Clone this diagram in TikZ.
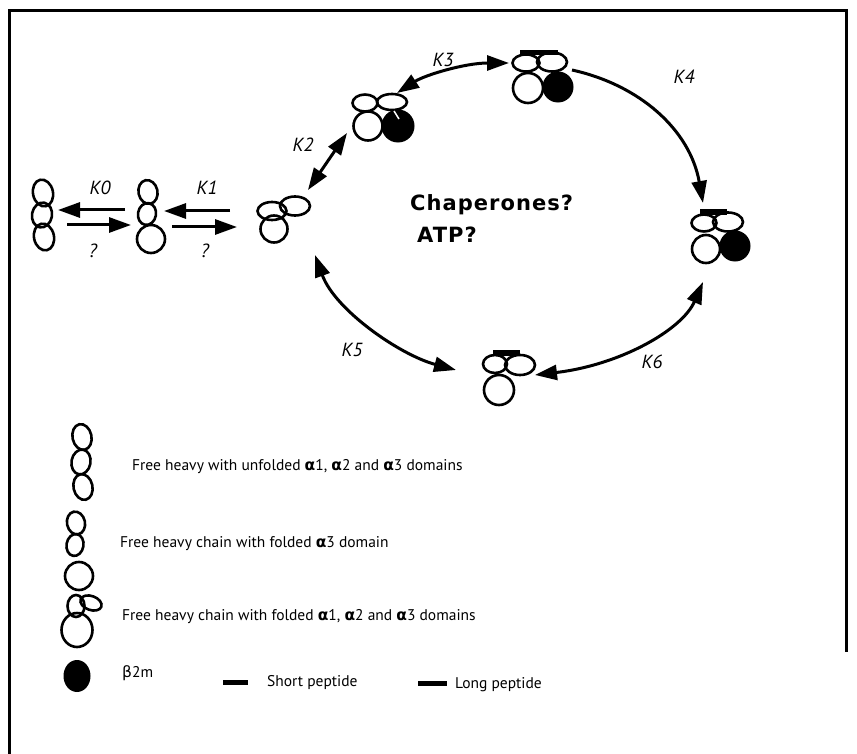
\documentclass[tikz,border=0pt]{standalone}
\usepackage{fontspec}
\setmainfont{PT Sans}
\newfontfamily\grk{DejaVu Sans}
\newfontfamily\chapfont[LetterSpace=5]{DejaVu Sans}
\usetikzlibrary{arrows.meta}
\newcommand{\al}{{\grk\bfseries α}}
\newcommand{\bt}{{\grk β}}
\begin{document}
\begin{tikzpicture}[x=1pt,y=-1pt,
  mol/.style={line width=2.6pt},
  b2m/.style={line width=1pt, fill=black},
  pep/.style={fill=black},
  frame/.style={line width=3pt},
  rxn/.style={line width=3pt, -{Triangle[length=22pt,width=15pt]}},
  rxnb/.style={line width=3pt, {Triangle[length=22pt,width=15pt]}-{Triangle[length=22pt,width=15pt]}},
  klab/.style={font=\fontsize{19}{22}\selectfont\itshape, inner sep=0},
  legtxt/.style={font=\fontsize{15.5}{18}\selectfont, anchor=base west, inner sep=0},
  bigtxt/.style={font=\chapfont\bfseries\fontsize{21}{24}\selectfont, anchor=base west, inner sep=0}
]
\useasboundingbox (0,0) rectangle (857,754);
% frame
\draw[frame] (9,754) -- (9,11) -- (846,11) -- (846,652);

% ---- molecule 1: unfolded chain
\draw[mol] (43,193) ellipse [x radius=10pt, y radius=13.5pt, rotate=12];
\draw[mol] (42,215) ellipse [x radius=10pt, y radius=12.5pt, rotate=-10];
\draw[mol] (44,237) ellipse [x radius=10pt, y radius=13.5pt, rotate=12];

% ---- molecule 2: folded a3
\draw[mol] (148,192) ellipse [x radius=9.5pt, y radius=12pt, rotate=12];
\draw[mol] (147,214) ellipse [x radius=9pt, y radius=11pt, rotate=-10];
\draw[mol] (151,239) circle [radius=14pt];

% ---- molecule 3: folded free heavy chain
\draw[mol] (272,211) ellipse [x radius=14.5pt, y radius=9pt];
\draw[mol] (295,206) ellipse [x radius=15pt, y radius=9.5pt];
\draw[mol] (274,229) circle [radius=13.5pt];

% ---- molecule 4: with b2m, no peptide
\draw[mol] (365,103) ellipse [x radius=12.5pt, y radius=8.5pt];
\draw[mol] (392,102) ellipse [x radius=15pt, y radius=8pt];
\draw[mol] (368,126) circle [radius=14.5pt];
\draw[b2m] (398,126) circle [radius=16pt];
\draw[white, line width=1.5pt] (394,111) -- (399,119);

% ---- molecule 5: long peptide + b2m
\fill[pep] (520,50) rectangle (558,55.5);
\draw[mol] (526,63) ellipse [x radius=13.5pt, y radius=8.5pt];
\draw[mol] (552,62) ellipse [x radius=15pt, y radius=9.5pt];
\draw[mol] (528,88) circle [radius=15pt];
\draw[b2m] (558,87) circle [radius=15pt];

% ---- molecule 6: short peptide + b2m
\fill[pep] (700,209) rectangle (727,215);
\draw[mol] (704,223) ellipse [x radius=12.5pt, y radius=8.5pt];
\draw[mol] (728,222) ellipse [x radius=15pt, y radius=9.5pt];
\draw[mol] (706,249) circle [radius=14pt];
\draw[b2m] (735,246) circle [radius=15pt];

% ---- molecule 7: short peptide, no b2m
\fill[pep] (493,350) rectangle (520,355.5);
\draw[mol] (495,364) ellipse [x radius=12pt, y radius=9pt];
\draw[mol] (520,365) ellipse [x radius=15pt, y radius=10pt];
\draw[mol] (499,390) circle [radius=15pt];

% ---- arrow end points
\coordinate (k0a) at (125,210); \coordinate (k0b) at (58,210);
\coordinate (k0c) at (67,225);  \coordinate (k0d) at (131,225);
\coordinate (k1a) at (230,211); \coordinate (k1b) at (164,211);
\coordinate (k1c) at (172,227); \coordinate (k1d) at (237,227);
\coordinate (k2a) at (308,190); \coordinate (k2b) at (347,133);
\coordinate (k3a) at (397,93);  \coordinate (k3b) at (509,63);
\coordinate (k4a) at (572,70);  \coordinate (k4b) at (703,203);
\coordinate (k5a) at (315,255); \coordinate (k5b) at (456,370);
\coordinate (k6a) at (535,375); \coordinate (k6b) at (703,282);

\draw[rxn] (k0a) -- (k0b);
\draw[rxn] (k0c) -- (k0d);
\draw[rxn] (k1a) -- (k1b);
\draw[rxn] (k1c) -- (k1d);
\draw[rxnb] (k2a) -- (k2b);
\draw[rxnb] (k3a) .. controls (425,75) and (465,63) .. (k3b);
\draw[rxn] (k4a) .. controls (640,85) and (690,130) .. (k4b);
\draw[rxnb] (k5a) .. controls (335,310) and (400,355) .. (k5b);
\draw[rxnb] (k6a) .. controls (620,365) and (682,330) .. (k6b);

% ---- labels
\node[klab] (lk0) at (100,188) {K0};
\node[klab] (lq0) at (93,251) {?};
\node[klab] (lk1) at (207,188) {K1};
\node[klab] (lq1) at (205,251) {?};
\node[klab] (lk2) at (303,145) {K2};
\node[klab] (lk3) at (443,60) {K3};
\node[klab] (lk4) at (684,77) {K4};
\node[klab] (lk5) at (352,350) {K5};
\node[klab] (lk6) at (652,362) {K6};

\node[bigtxt] (chap) at (410,211) {Chaperones?};
\node[bigtxt] (atp) at (417,243) {ATP?};

% ---- legend icons
\draw[mol] (82,437) ellipse [x radius=9.5pt, y radius=13pt, rotate=12];
\draw[mol] (81,462) ellipse [x radius=9.5pt, y radius=12.5pt, rotate=-10];
\draw[mol] (83,487) ellipse [x radius=9.5pt, y radius=13pt, rotate=12];

\draw[mol] (76,523) ellipse [x radius=9pt, y radius=11.5pt, rotate=12];
\draw[mol] (75,545) ellipse [x radius=8.5pt, y radius=11pt, rotate=-10];
\draw[mol] (79,576) circle [radius=14pt];

\draw[mol] (76,606) ellipse [x radius=8.5pt, y radius=11pt];
\draw[mol] (91,603) ellipse [x radius=11pt, y radius=7pt, rotate=-20];
\draw[mol] (77,630) ellipse [x radius=15.5pt, y radius=17pt];

\fill[black] (77,676) ellipse [x radius=13.5pt, y radius=16pt];
\fill[pep] (223,680) rectangle (248,685);
\fill[pep] (418,681) rectangle (447,686);

% ---- legend texts
\node[legtxt] (t1) at (132,470) {Free heavy with unfolded \al1, \al2 and \al3 domains};
\node[legtxt] (t2) at (120,547) {Free heavy chain with folded \al3 domain};
\node[legtxt] (t3) at (122,620) {Free heavy chain with folded \al1, \al2 and \al3 domains};
\node[legtxt] (t4) at (122,677) {\bt2m};
\node[legtxt] (t5) at (267,686) {Short peptide};
\node[legtxt] (t6) at (455,688) {Long peptide};
\end{tikzpicture}
\end{document}
